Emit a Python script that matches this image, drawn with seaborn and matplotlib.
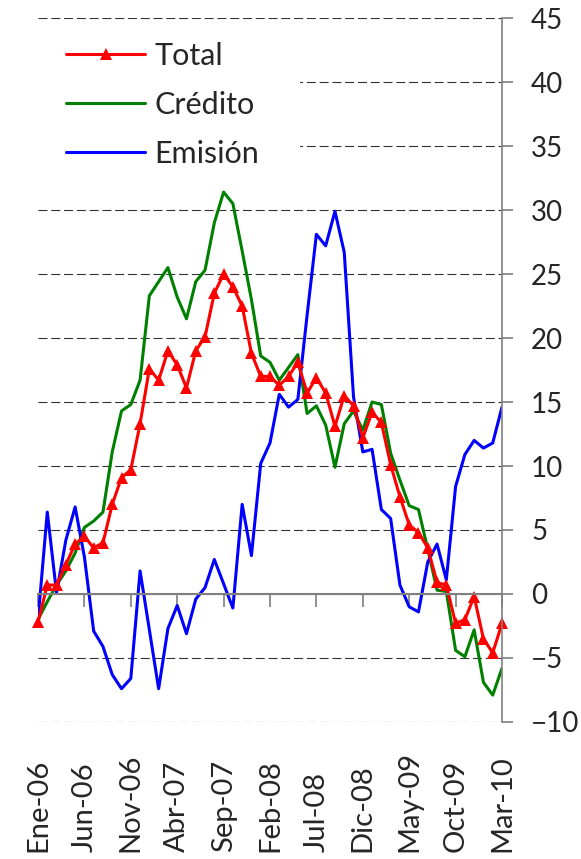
import pandas as pd
import matplotlib.pyplot as plt
import matplotlib.transforms as mtransforms
from matplotlib.patches import Rectangle
import seaborn as sns

# Datos mensuales Ene-06 a Mar-10 (51 meses), variacion %
total = [-2.2, 0.7, 0.7, 2.3, 3.9, 4.5, 3.6, 4.0, 7.0, 9.1,
         9.7, 13.3, 17.6, 16.7, 19.0, 17.9, 16.1, 19.0, 20.1, 23.5,
         25.0, 24.0, 22.5, 18.8, 17.0, 17.0, 16.3, 17.0, 18.1, 15.7,
         16.9, 15.7, 13.1, 15.5, 14.7, 12.2, 14.2, 13.4, 10.1, 7.6,
         5.4, 4.8, 3.6, 0.9, 0.7, -2.3, -2.0, -0.2, -3.5, -4.6,
         -2.3]
credito = [-2.0, -0.6, 0.7, 1.8, 3.2, 5.2, 5.7, 6.4, 11.1, 14.3,
           14.8, 16.7, 23.3, 24.4, 25.5, 23.2, 21.5, 24.4, 25.3, 29.0,
           31.4, 30.5, 26.8, 23.0, 18.6, 18.1, 16.7, 17.7, 18.7, 14.1,
           14.7, 13.2, 9.9, 13.3, 14.3, 12.8, 15.0, 14.8, 11.0, 8.9,
           6.9, 6.6, 3.5, 0.3, 0.2, -4.4, -4.9, -2.8, -6.9, -7.9,
           -5.8]
emision = [-2.0, 6.4, 0.1, 4.2, 6.8, 2.9, -2.9, -4.1, -6.3, -7.4,
           -6.6, 1.8, -2.8, -7.4, -2.7, -0.9, -3.1, -0.4, 0.5, 2.7,
           0.8, -1.1, 7.0, 3.0, 10.2, 11.8, 15.6, 14.6, 15.2, 21.8,
           28.1, 27.2, 29.9, 26.7, 15.4, 11.1, 11.3, 6.6, 5.9, 0.7,
           -1.0, -1.4, 2.5, 3.9, 1.1, 8.4, 10.9, 12.0, 11.4, 11.8,
           14.6]

# Etiquetas del eje x (cada 5 meses)
etiquetas = ['Ene-06', 'Jun-06', 'Nov-06', 'Abr-07', 'Sep-07', 'Feb-08',
             'Jul-08', 'Dic-08', 'May-09', 'Oct-09', 'Mar-10']
pos_etiquetas = [0, 5, 10, 15, 20, 25, 30, 35, 40, 45, 50]

df = pd.DataFrame({'mes': range(len(total)), 'Total': total,
                   'Crédito': credito, 'Emisión': emision})

sns.set_style("white")
plt.rcParams['font.family'] = ['Lato', 'DejaVu Sans']
plt.rcParams['lines.scale_dashes'] = False

fig = plt.figure(figsize=(5.81, 8.59), dpi=100)
ax = fig.add_axes([38 / 581, 1 - 722 / 859, 464 / 581, 704 / 859])

sns.lineplot(data=df, x='mes', y='Crédito', ax=ax, color='#008000', lw=2.2, label='Crédito')
sns.lineplot(data=df, x='mes', y='Emisión', ax=ax, color='#0000FF', lw=2.2, label='Emisión')
sns.lineplot(data=df, x='mes', y='Total', ax=ax, color='#FF0000', lw=2.2, marker='^',
             markersize=9, markeredgewidth=0, label='Total', clip_on=False)

ax.set_xlim(0, 50)
ax.set_ylim(-10, 45)
ax.set_xlabel('')
ax.set_ylabel('')

# eje y a la derecha
ax.yaxis.tick_right()
ax.set_yticks(range(-10, 50, 5))
ax.tick_params(axis='y', direction='out', length=8, width=1.2, color='#808080',
               pad=13, labelsize=20, right=True, left=False)

# eje x en cero con marcas, etiquetas abajo
ax.set_xticks(pos_etiquetas)
ax.set_xticklabels([])
ax.tick_params(axis='x', direction='out', length=9, width=1.2, color='#808080', bottom=True)

ax.spines['left'].set_visible(False)
ax.spines['top'].set_visible(False)
ax.spines['right'].set_color('#808080')
ax.spines['right'].set_linewidth(1.2)
ax.spines['bottom'].set_position(('data', 0))
ax.spines['bottom'].set_color('#808080')
ax.spines['bottom'].set_linewidth(1.5)

ax.set_axisbelow(True)
ax.grid(True, axis='y', color='#333333', linestyle=(0, (6.5, 2.7)), lw=0.8)
ax.grid(False, axis='x')

trans = mtransforms.blended_transform_factory(ax.transData, fig.transFigure)
for p, lab in zip(pos_etiquetas, etiquetas):
    ax.text(p, 0.008, lab, transform=trans, rotation=90, ha='center', va='bottom', fontsize=21)

# fondo blanco detras de la leyenda (tapa la cuadricula)
ax.add_patch(Rectangle((0, 0.76), 0.565, 0.21, transform=ax.transAxes,
                       facecolor='white', edgecolor='none', zorder=1))

# leyenda: Total, Crédito, Emisión
handles, labels = ax.get_legend_handles_labels()
orden = [labels.index(n) for n in ['Total', 'Crédito', 'Emisión']]
ax.legend([handles[i] for i in orden], [labels[i] for i in orden],
          loc='upper left', bbox_to_anchor=(66 / 581, 1 - 42 / 859),
          bbox_transform=fig.transFigure, frameon=False, fontsize=22,
          handlelength=2.6, handletextpad=0.3, labelspacing=0.68,
          borderpad=0, borderaxespad=0)

plt.savefig('out.png', dpi=100)
